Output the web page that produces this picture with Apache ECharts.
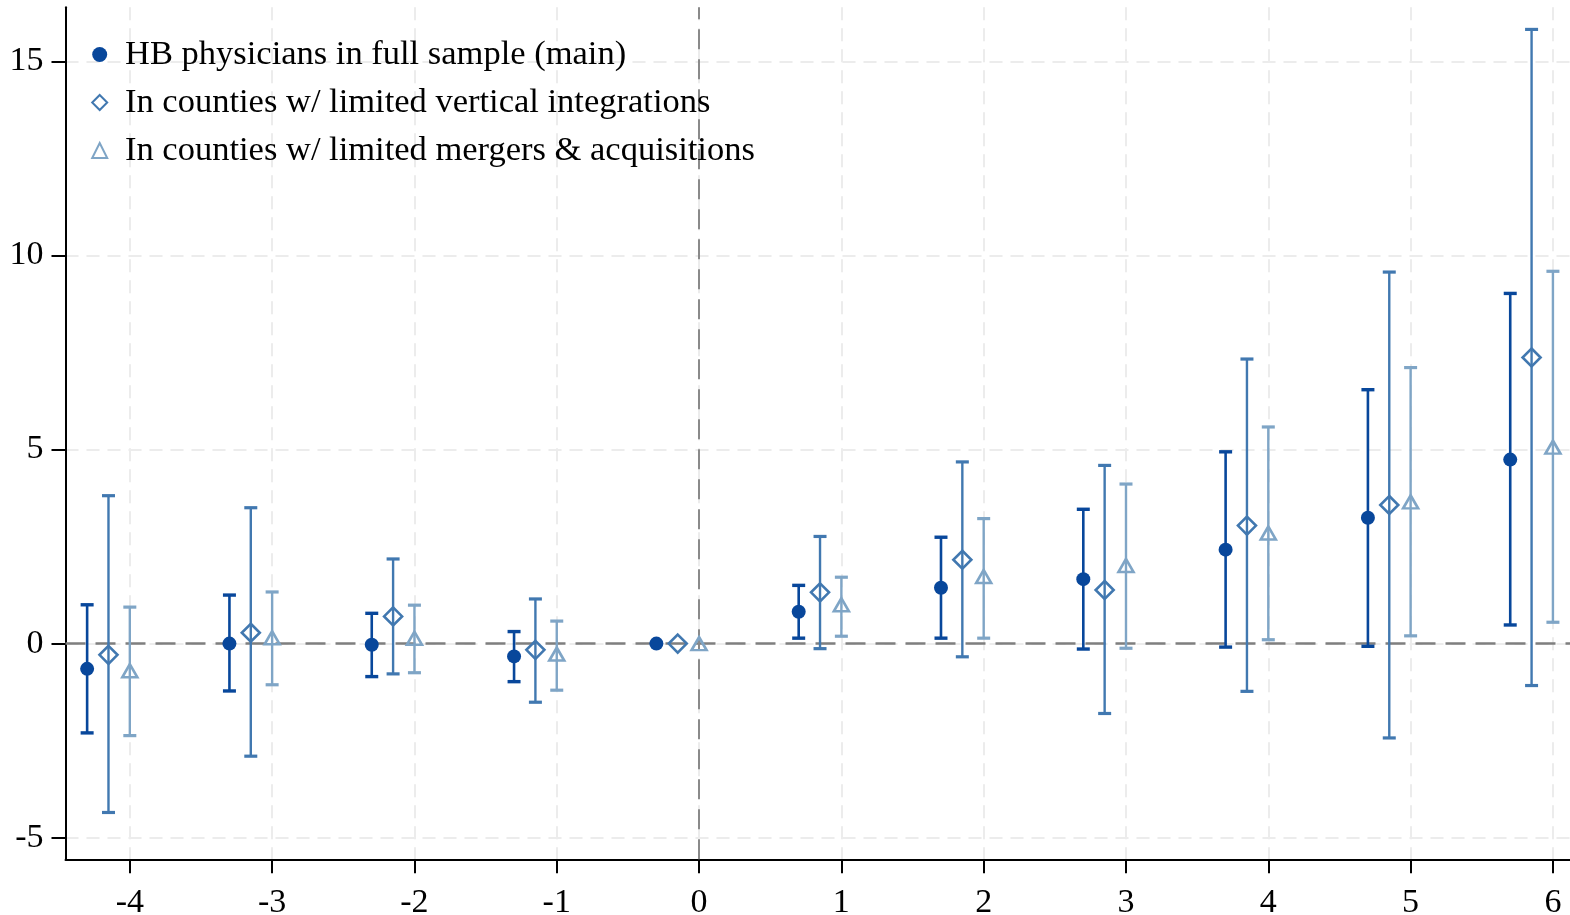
<!DOCTYPE html>
<html>
<head>
<meta charset="utf-8">
<title>Event-study estimates</title>
<script src="https://cdn.jsdelivr.net/npm/echarts@6/dist/echarts.min.js"></script>
<style>
  html, body { margin: 0; padding: 0; background: #fff; }
  #chart { width: 1570px; height: 915px; }
</style>
</head>
<body>
<div id="chart"></div>
<script>
// Event time relative to treatment
const periods = [-4, -3, -2, -1, 0, 1, 2, 3, 4, 5, 6];
const yTicks = [-5, 0, 5, 10, 15];

// HB physicians in full sample (main)
const mainEst = [-0.65, 0.00, -0.03, -0.33, 0, 0.82, 1.44, 1.66, 2.42, 3.24, 4.74];
const mainLo  = [-2.30, -1.22, -0.85, -0.98, 0, 0.14, 0.14, -0.14, -0.09, -0.07, 0.48];
const mainHi  = [1.00, 1.25, 0.78, 0.31, 0, 1.50, 2.74, 3.46, 4.94, 6.54, 9.02];

// In counties w/ limited vertical integrations
const vertEst = [-0.29, 0.28, 0.70, -0.16, 0, 1.32, 2.16, 1.38, 3.04, 3.57, 7.37];
const vertLo  = [-4.35, -2.90, -0.78, -1.51, 0, -0.13, -0.34, -1.80, -1.23, -2.43, -1.08];
const vertHi  = [3.81, 3.50, 2.18, 1.15, 0, 2.76, 4.68, 4.59, 7.33, 9.57, 15.82];

// In counties w/ limited mergers & acquisitions
const maEst = [-0.70, 0.15, 0.14, -0.27, 0, 1.00, 1.73, 2.01, 2.85, 3.65, 5.06];
const maLo  = [-2.37, -1.06, -0.75, -1.20, 0, 0.19, 0.14, -0.12, 0.10, 0.20, 0.55];
const maHi  = [0.94, 1.33, 0.99, 0.58, 0, 1.71, 3.22, 4.11, 5.58, 7.11, 9.59];

const seriesNames = [
  'HB physicians in full sample (main)',
  'In counties w/ limited vertical integrations',
  'In counties w/ limited mergers & acquisitions'
];

// horizontal dodge of the three estimates within each period
const dodge = [-0.3, -0.15, 0];

const colors = ['#08479b', '#4178b0', '#7fa5c6'];
const FONT = '"Liberation Serif", "Times New Roman", serif';

function pointData(est, shift) {
  return periods.map((p, i) => [p + shift, est[i]]);
}
function barData(lo, hi, shift) {
  return periods.map((p, i) => [p + shift, lo[i], hi[i]]);
}

// Confidence interval whiskers with end caps
function errorBars(lo, hi, shift, color, width) {
  return {
    type: 'custom',
    silent: true,
    z: 3,
    data: barData(lo, hi, shift),
    encode: { x: 0, y: [1, 2] },
    renderItem: function (params, api) {
      const x = api.value(0);
      const l = api.value(1);
      const h = api.value(2);
      if (h === l) return null;
      const top = api.coord([x, h]);
      const bot = api.coord([x, l]);
      const cap = 6.5;
      const st = { stroke: color, lineWidth: width, lineCap: 'butt' };
      const capSt = Object.assign({}, st, { lineWidth: width + 0.8 });
      return {
        type: 'group',
        children: [
          { type: 'line', shape: { x1: top[0], y1: top[1], x2: bot[0], y2: bot[1] }, style: st },
          { type: 'line', shape: { x1: top[0] - cap, y1: top[1], x2: top[0] + cap, y2: top[1] }, style: capSt },
          { type: 'line', shape: { x1: bot[0] - cap, y1: bot[1], x2: bot[0] + cap, y2: bot[1] }, style: capSt }
        ]
      };
    }
  };
}

const chart = echarts.init(document.getElementById('chart'), null, { renderer: 'canvas' });

const option = {
  animation: false,
  backgroundColor: '#ffffff',
  grid: {
    left: 65.5, right: 0, top: 7.3, bottom: 55.7,
    containLabel: false,
    outerBoundsMode: 'none'
  },
  legend: {
    orient: 'vertical',
    left: 86.2,
    top: 19.5,
    itemWidth: 15,
    itemHeight: 15,
    itemGap: -12,
    selectedMode: false,
    data: seriesNames,
    textStyle: {
      fontFamily: FONT,
      fontSize: 34.5,
      color: '#000',
      lineHeight: 34,
      padding: [26, 0, 0, 12.8]
    }
  },
  xAxis: {
    type: 'value',
    min: -4.452,
    max: 6.12,
    axisLine: { show: true, onZero: false, lineStyle: { color: '#000', width: 2 } },
    axisTick: { show: true, length: 14, customValues: periods, lineStyle: { color: '#000', width: 2 } },
    axisLabel: {
      customValues: periods,
      margin: 27,
      fontFamily: FONT,
      fontSize: 34,
      color: '#000'
    },
    splitLine: { show: true, lineStyle: { color: '#ececec', width: 2, type: [13, 8] } }
  },
  yAxis: {
    type: 'value',
    min: -5.556,
    max: 16.39,
    axisLine: { show: true, onZero: false, lineStyle: { color: '#000', width: 2 } },
    axisTick: { show: true, length: 14, customValues: yTicks, lineStyle: { color: '#000', width: 2 } },
    axisLabel: {
      customValues: yTicks,
      margin: 22,
      fontFamily: FONT,
      fontSize: 34,
      color: '#000'
    },
    splitLine: { show: true, lineStyle: { color: '#ececec', width: 2, type: [13, 8] } }
  },
  series: [
    errorBars(mainLo, mainHi, dodge[0], colors[0], 2.6),
    errorBars(vertLo, vertHi, dodge[1], colors[1], 2.4),
    errorBars(maLo, maHi, dodge[2], colors[2], 2.4),
    {
      name: seriesNames[0],
      type: 'scatter',
      z: 5,
      symbol: 'circle',
      symbolSize: 14,
      itemStyle: { color: colors[0], opacity: 1 },
      data: pointData(mainEst, dodge[0]),
      markLine: {
        silent: true,
        symbol: 'none',
        label: { show: false },
        animation: false,
        z: 2,
        data: [
          { yAxis: 0, lineStyle: { color: '#7f7f7f', width: 2.6, type: [20, 10] } },
          { xAxis: 0, lineStyle: { color: '#8a8a8a', width: 2, type: [20, 10] } }
        ]
      }
    },
    {
      name: seriesNames[1],
      type: 'scatter',
      z: 5,
      symbol: 'diamond',
      symbolSize: [18, 18],
      itemStyle: { color: 'rgba(255,255,255,0)', borderColor: colors[1], borderWidth: 2.6, opacity: 1 },
      data: pointData(vertEst, dodge[1])
    },
    {
      name: seriesNames[2],
      type: 'scatter',
      z: 5,
      symbol: 'triangle',
      symbolSize: [15, 13],
      itemStyle: { color: 'rgba(255,255,255,0)', borderColor: colors[2], borderWidth: 2.6, opacity: 1 },
      data: pointData(maEst, dodge[2])
    }
  ]
};

chart.setOption(option);
</script>
</body>
</html>
